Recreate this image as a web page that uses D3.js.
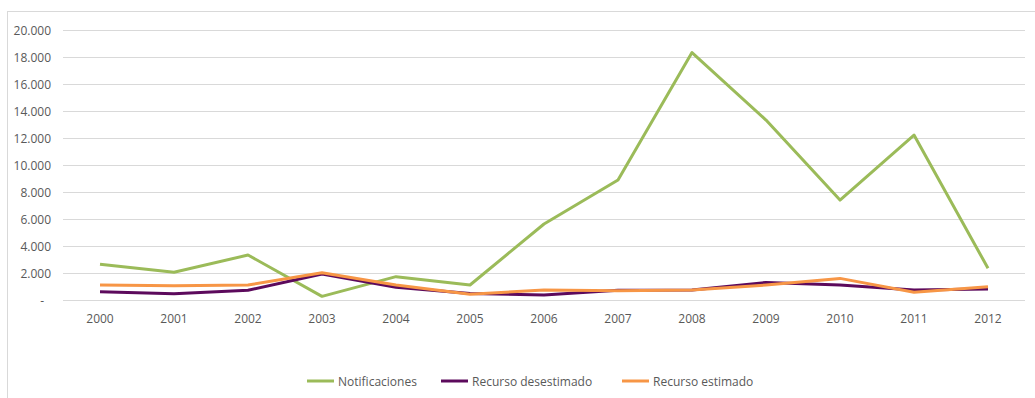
<!DOCTYPE html>
<html>
<head>
<meta charset="utf-8">
<script src="https://cdn.jsdelivr.net/npm/d3@7"></script>
<style>
  body { margin: 0; background: #fff; }
  text { font-family: "Open Sans", "Liberation Sans", sans-serif; fill: #595959; }
</style>
</head>
<body>
<div id="chart"></div>
<script>
// data
const years = ['2000','2001','2002','2003','2004','2005','2006','2007','2008','2009','2010','2011','2012'];
const notificaciones = [2640, 2060, 3330, 270, 1730, 1110, 5630, 8890, 18330, 13330, 7400, 12220, 2350];
const recursoDesestimado = [620, 470, 720, 1930, 940, 490, 370, 720, 740, 1300, 1110, 740, 810];
const recursoEstimado = [1110, 1060, 1110, 2020, 1110, 420, 740, 690, 740, 1110, 1600, 570, 990];
const yTicks = [0, 2000, 4000, 6000, 8000, 10000, 12000, 14000, 16000, 18000, 20000];
const seriesNames = ['Notificaciones', 'Recurso desestimado', 'Recurso estimado'];
const seriesColors = ['#9bbb59', '#5c0a5c', '#f79646'];

const width = 1035, height = 398;
const margin = {left: 63, right: 10, top: 30, bottom: 98};

const svg = d3.select('#chart').append('svg')
    .attr('width', width)
    .attr('height', height);

// chart area border
svg.append('rect')
    .attr('x', 7.5).attr('y', 11.5)
    .attr('width', width + 10).attr('height', height)
    .attr('fill', 'none')
    .attr('stroke', '#d9d9d9');

const x = d3.scaleBand().domain(years).range([margin.left, width - margin.right]);
const y = d3.scaleLinear().domain([0, 20000]).range([height - margin.bottom, margin.top]);

// gridlines
svg.append('g').selectAll('line')
    .data(yTicks)
    .enter()
    .append('line')
    .attr('x1', margin.left)
    .attr('x2', width - margin.right)
    .attr('y1', d => y(d) + 0.5)
    .attr('y2', d => y(d) + 0.5)
    .attr('stroke', '#d9d9d9')
    .attr('stroke-width', 1);

// y labels
const fmt = d => d === 0 ? '-' : d3.format(',')(d).replace(/,/g, '.');
svg.append('g').selectAll('text')
    .data(yTicks)
    .enter()
    .append('text')
    .attr('x', d => d === 0 ? 44 : 51)
    .attr('y', d => y(d))
    .attr('text-anchor', 'end')
    .attr('dominant-baseline', 'central')
    .style('font-size', '12px')
    .text(fmt);

// x labels
svg.append('g').selectAll('text')
    .data(years)
    .enter()
    .append('text')
    .attr('x', d => x(d) + x.bandwidth() / 2)
    .attr('y', y(0) + 18)
    .attr('text-anchor', 'middle')
    .attr('dominant-baseline', 'central')
    .style('font-size', '12px')
    .text(d => d);

// lines
const line = d3.line()
    .x((d, i) => x(years[i]) + x.bandwidth() / 2)
    .y(d => y(d));

[notificaciones, recursoDesestimado, recursoEstimado].forEach((s, i) => {
    svg.append('path')
        .datum(s)
        .attr('d', line)
        .attr('fill', 'none')
        .attr('stroke', seriesColors[i])
        .attr('stroke-width', 3)
        .attr('stroke-linejoin', 'round');
});

// legend
const legendX = [307, 441, 622];
const legendY = 381;
seriesNames.forEach((name, i) => {
    svg.append('line')
        .attr('x1', legendX[i]).attr('x2', legendX[i] + 27)
        .attr('y1', legendY).attr('y2', legendY)
        .attr('stroke', seriesColors[i])
        .attr('stroke-width', 3);
    svg.append('text')
        .attr('x', legendX[i] + 31)
        .attr('y', legendY)
        .attr('dominant-baseline', 'central')
        .style('font-size', '12px')
        .text(name);
});
</script>
</body>
</html>
